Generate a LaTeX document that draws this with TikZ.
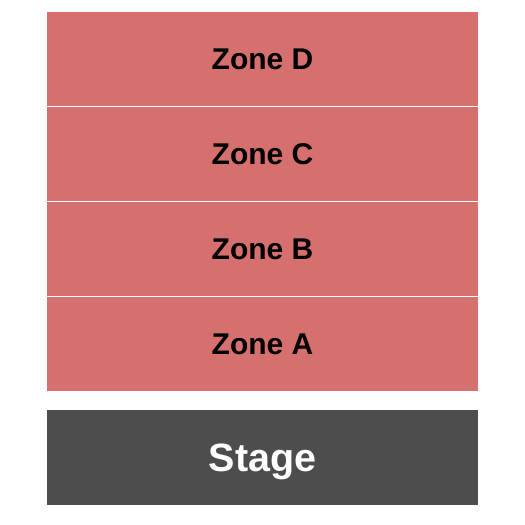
\documentclass[tikz,border=0pt]{standalone}
\usepackage{fontspec}
\setmainfont{Liberation Sans}
\definecolor{zonered}{HTML}{D6706E}
\definecolor{stagegrey}{HTML}{4D4D4D}
\begin{document}
\begin{tikzpicture}[x=1pt,y=-1pt,
  zlabel/.style={font=\bfseries\fontsize{30}{34}\selectfont,text=black},
  slabel/.style={font=\bfseries\fontsize{39.5}{44}\selectfont,text=white}]
\useasboundingbox (0,0) rectangle (525,525);
\fill[white] (0,0) rectangle (525,525);
\fill[zonered] (47,12) rectangle (478,105.5);
\fill[zonered] (47,106.5) rectangle (478,200.5);
\fill[zonered] (47,201.5) rectangle (478,295.5);
\fill[zonered] (47,296.5) rectangle (478,390.5);
\fill[stagegrey] (47,410) rectangle (478,504.5);
\node[zlabel] (d) at (262.5,59.5) {Zone D};
\node[zlabel] (c) at (262.5,154.5) {Zone C};
\node[zlabel] (b) at (262.5,249.5) {Zone B};
\node[zlabel] (a) at (262.5,344.5) {Zone A};
\node[slabel] (s) at (262.5,461.5) {Stage};
\end{tikzpicture}
\end{document}
